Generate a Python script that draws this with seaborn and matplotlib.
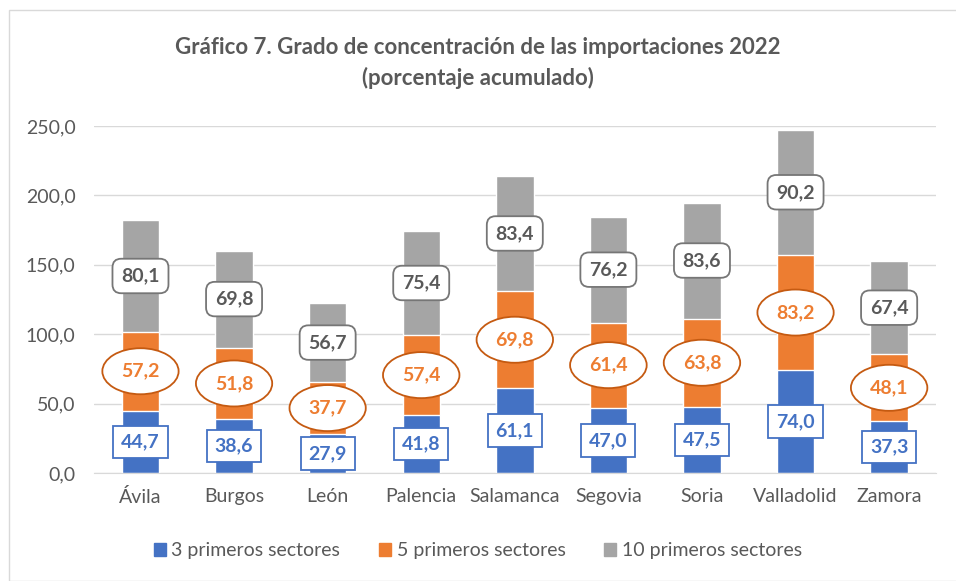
import pandas as pd
import matplotlib.pyplot as plt
import matplotlib.patches as mpatches
import seaborn as sns

provincias = ['Ávila', 'Burgos', 'León', 'Palencia', 'Salamanca', 'Segovia', 'Soria', 'Valladolid', 'Zamora']
tres = [44.7, 38.6, 27.9, 41.8, 61.1, 47.0, 47.5, 74.0, 37.3]
cinco = [57.2, 51.8, 37.7, 57.4, 69.8, 61.4, 63.8, 83.2, 48.1]
diez = [80.1, 69.8, 56.7, 75.4, 83.4, 76.2, 83.6, 90.2, 67.4]
series = ['3 primeros sectores', '5 primeros sectores', '10 primeros sectores']
colores = ['#4472C4', '#ED7D31', '#A5A5A5']


def fmt(v):
    return f'{v:.1f}'.replace('.', ',')


def main():
    df = pd.DataFrame({'provincia': provincias, 'tres': tres, 'cinco': cinco, 'diez': diez})
    df['top3'] = df['tres']
    df['top5'] = df['tres'] + df['cinco']
    df['top10'] = df['top5'] + df['diez']

    sns.set_style('white')
    plt.rcParams['font.family'] = ['Lato', 'DejaVu Sans']

    fig = plt.figure(figsize=(9.56, 5.81), dpi=100)
    ax = fig.add_axes([0.098, 0.186, 0.881, 0.597])

    # stacked bars drawn as cumulative totals, biggest first
    for col, c in zip(['top10', 'top5', 'top3'], colores[::-1]):
        sns.barplot(data=df, x='provincia', y=col, color=c, width=0.40,
                    saturation=1, ax=ax, zorder=2)

    ax.set_ylim(0, 250)
    ax.set_yticks(range(0, 251, 50))
    ax.set_yticklabels([fmt(v) for v in range(0, 251, 50)])
    ax.set_xlim(-0.5, len(provincias) - 0.5)
    ax.set_xlabel('')
    ax.set_ylabel('')
    ax.grid(axis='y', color='#D9D9D9', linewidth=1, zorder=0)
    ax.set_axisbelow(True)
    for s in ax.spines.values():
        s.set_visible(False)
    ax.spines['bottom'].set_visible(True)
    ax.spines['bottom'].set_color('#D9D9D9')
    ax.tick_params(axis='both', length=0, labelsize=14, colors='#595959')
    ax.tick_params(axis='y', pad=13)
    ax.tick_params(axis='x', pad=11)

    # data labels in the middle of each segment
    for i, row in df.iterrows():
        ax.text(i, row['top3'] / 2, fmt(row['tres']), ha='center', va='center',
                fontsize=14, fontweight='bold', color='#4472C4', zorder=5,
                bbox=dict(boxstyle='square,pad=0.4', fc='white', ec='#4472C4', lw=1.3))
        ax.text(i, (row['top3'] + row['top5']) / 2, fmt(row['cinco']), ha='center', va='center',
                fontsize=14, fontweight='bold', color='#ED7D31', zorder=5,
                bbox=dict(boxstyle='ellipse,pad=0.4', fc='white', ec='#C55A11', lw=1.3))
        ax.text(i, (row['top5'] + row['top10']) / 2, fmt(row['diez']), ha='center', va='center',
                fontsize=14, fontweight='bold', color='#595959', zorder=5,
                bbox=dict(boxstyle='round,pad=0.45', fc='white', ec='#767676', lw=1.3))

    fig.text(0.5, 0.918, 'Gráfico 7. Grado de concentración de las importaciones 2022',
             ha='center', va='center', fontsize=16, fontweight='bold', color='#595959')
    fig.text(0.5, 0.865, '(porcentaje acumulado)',
             ha='center', va='center', fontsize=16, fontweight='bold', color='#595959')

    handles = [mpatches.Patch(color=c, label=s) for c, s in zip(colores, series)]
    fig.legend(handles=handles, loc='center', bbox_to_anchor=(0.5, 0.052), ncol=3,
               frameon=False, fontsize=14, handlelength=0.6, handleheight=0.6,
               handletextpad=0.3, columnspacing=2.0, labelcolor='#595959')

    # chart frame
    fig.patches.append(mpatches.Rectangle((0.009, 0.0), 0.995, 0.982, transform=fig.transFigure,
                                          fill=False, ec='#D9D9D9', lw=1))

    fig.savefig('out.png', dpi=100)


if __name__ == "__main__":
    main()
